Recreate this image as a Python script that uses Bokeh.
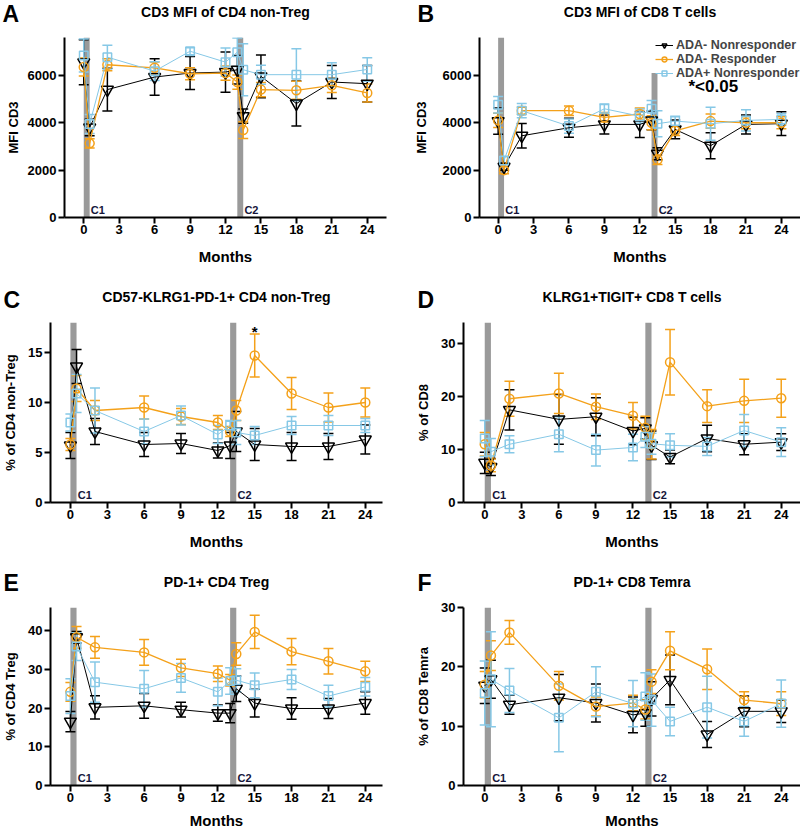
from bokeh.plotting import figure
from bokeh.models import (Range1d, FixedTicker, Whisker, TeeHead, ColumnDataSource,
                          Label, Legend, LegendItem, Title)
from bokeh.layouts import column, row
from bokeh.embed import file_html
from bokeh.resources import INLINE

# ---------------- data ----------------
months = [0, 0.5, 2, 6, 9, 12, 13, 13.5, 15, 18, 21, 24]
x_ticks = [0, 3, 6, 9, 12, 15, 18, 21, 24]
series_names = ["ADA- Nonresponder", "ADA- Responder", "ADA+ Nonresponder"]
cycle_labels = ["C1", "C2"]
cycle_start = [0, 13]
cycle_end = [0.5, 13.5]

# A: CD3 MFI of CD4 non-Treg
a_nr = [6550, 3800, 5400, 5930, 6100, 6140, 6240, 4280, 5960, 4810, 5720, 5650]
a_nr_sem = [950, 350, 900, 770, 700, 850, 600, 300, 900, 950, 700, 770]
a_r = [6350, 3130, 6450, 6320, 6070, 6100, 5720, 3690, 5400, 5370, 5580, 5260]
a_r_sem = [380, 200, 250, 250, 250, 300, 300, 350, 300, 380, 300, 380]
a_pos = [6840, 3950, 6770, 6180, 7020, 6560, 6980, 6240, 6030, 6030, 6030, 6250]
a_pos_sem = [700, 400, 500, 400, 150, 600, 600, 1100, 400, 1100, 500, 500]

# B: CD3 MFI of CD8 T cells
b_nr = [4070, 2140, 3450, 3790, 3930, 3930, 4100, 2690, 3720, 3030, 3930, 3960]
b_nr_sem = [550, 150, 520, 400, 400, 550, 400, 250, 400, 550, 400, 500]
b_r = [4100, 2000, 4510, 4510, 4230, 4370, 4000, 2440, 3660, 4070, 4000, 4000]
b_r_sem = [300, 150, 150, 200, 200, 250, 300, 200, 200, 300, 250, 250]
b_pos = [4760, 2410, 4510, 3860, 4590, 4280, 4590, 3960, 4070, 3960, 4100, 4140]
b_pos_sem = [350, 150, 300, 300, 200, 300, 350, 550, 200, 700, 450, 250]

# C: CD57-KLRG1-PD-1+ CD4 non-Treg
c_nr = [5.7, 13.6, 7.1, 5.8, 5.9, 5.2, 5.7, 7.1, 5.8, 5.6, 5.6, 6.3]
c_nr_sem = [1.3, 1.7, 1.3, 1.2, 1.0, 0.75, 1.3, 2.0, 1.6, 1.4, 1.3, 1.45]
c_r = [5.8, 11.4, 9.2, 9.5, 8.6, 8.0, 7.1, 9.2, 14.7, 10.9, 9.5, 10.0]
c_r_sem = [0.6, 1.3, 1.0, 1.15, 0.8, 0.7, 0.5, 1.0, 2.15, 1.6, 1.45, 1.45]
c_pos = [8.0, 10.9, 9.2, 7.1, 8.7, 6.8, 7.7, 7.0, 6.7, 7.7, 7.7, 7.7]
c_pos_sem = [0.85, 1.9, 2.25, 1.25, 0.95, 0.9, 0.5, 1.2, 0.9, 0.9, 1.0, 0.7]

# D: KLRG1+TIGIT+ CD8 T cells
d_nr = [7.5, 6.7, 17.5, 15.7, 16.2, 13.5, 14.0, 10.8, 8.6, 12.1, 11.0, 11.4]
d_nr_sem = [2.0, 1.6, 3.8, 4.7, 3.6, 2.6, 2.0, 2.7, 1.3, 2.5, 2.0, 1.6]
d_r = [11.0, 7.0, 19.6, 20.6, 18.1, 16.4, 14.1, 11.0, 26.5, 18.2, 19.2, 19.7]
d_r_sem = [2.2, 1.2, 3.3, 3.8, 2.4, 2.5, 2.2, 2.8, 6.2, 3.1, 4.1, 3.6]
d_pos = [12.1, 9.6, 11.0, 12.9, 9.9, 10.4, 12.4, 11.1, 10.8, 10.6, 13.6, 11.4]
d_pos_sem = [3.4, 2.5, 1.6, 3.3, 3.0, 2.5, 2.0, 2.0, 2.2, 1.7, 3.0, 2.7]

# E: PD-1+ CD4 Treg
e_nr = [16.5, 38.3, 20.2, 20.6, 19.6, 18.7, 18.7, 25.0, 21.3, 19.9, 19.9, 21.3]
e_nr_sem = [2.6, 1.5, 3.0, 3.2, 1.9, 2.1, 2.5, 3.3, 3.6, 2.8, 2.6, 2.9]
e_r = [24.2, 38.3, 35.7, 34.4, 30.4, 28.9, 27.2, 34.0, 39.7, 34.6, 32.1, 29.5]
e_r_sem = [2.4, 2.8, 2.8, 3.3, 2.2, 2.0, 1.5, 2.9, 4.3, 3.4, 3.3, 2.6]
e_pos = [23.1, 35.9, 26.7, 25.0, 27.8, 24.2, 27.0, 27.2, 25.9, 27.4, 23.1, 25.5]
e_pos_sem = [4.5, 3.6, 5.2, 4.7, 3.7, 3.6, 3.4, 3.0, 3.2, 2.6, 2.8, 2.4]

# F: PD-1+ CD8 Temra
f_nr = [16.8, 17.9, 13.6, 14.8, 13.9, 11.9, 12.2, 14.6, 17.8, 8.6, 12.5, 12.5]
f_nr_sem = [3.0, 3.2, 1.6, 3.9, 3.2, 3.0, 2.2, 2.9, 4.2, 2.2, 2.6, 1.9]
f_r = [17.0, 21.9, 25.8, 16.8, 13.3, 13.9, 12.8, 17.5, 22.7, 19.6, 14.4, 13.8]
f_r_sem = [2.2, 2.5, 2.0, 2.4, 1.6, 1.3, 1.6, 2.0, 3.2, 3.4, 1.4, 2.0]
f_pos = [15.6, 17.9, 16.0, 11.4, 15.8, 13.8, 15.0, 14.4, 10.8, 13.2, 10.8, 13.8]
f_pos_sem = [5.4, 8.0, 3.7, 5.7, 4.2, 3.9, 4.0, 4.4, 2.4, 5.2, 2.5, 4.0]

# significance marks (panel C)
c_sig_x = [15]
c_sig_y = [17.1]

# ---------------- styling ----------------
COLORS = ["#000000", "#F4A11A", "#86C8E6"]
MARKERS = ["inverted_triangle", "circle", "square"]
MSIZES = [12, 9, 8.5]
LWIDTH = [1.0, 1.3, 1.0]
FONT = "Liberation Sans"


def make_panel(letter, title, ylabel, yend, yticks, series, W, H, L, R, T, B,
               xstart, xend, ylab_standoff, xlab_standoff, letter_offset, letter_standoff,
               bar_tops=None):
    p = figure(width=W, height=H, x_range=Range1d(xstart, xend), y_range=Range1d(0, yend),
               output_backend="svg", toolbar_location=None,
               min_border_left=L, min_border_right=R, min_border_top=T, min_border_bottom=B)
    p.outline_line_color = None
    p.grid.visible = False
    p.xaxis.ticker = FixedTicker(ticks=x_ticks)
    p.yaxis.ticker = FixedTicker(ticks=yticks)
    for ax in (p.xaxis[0], p.yaxis[0]):
        ax.axis_line_width = 2
        ax.axis_line_color = "black"
        ax.major_tick_line_width = 2
        ax.major_tick_out = 6
        ax.major_tick_in = 0
        ax.minor_tick_out = 0
        ax.minor_tick_in = 0
        ax.major_label_text_font = FONT
        ax.major_label_text_font_style = "bold"
        ax.major_label_text_font_size = "13px"
        ax.major_label_text_color = "black"
        ax.axis_label_text_font = FONT
        ax.axis_label_text_font_style = "bold"
        ax.axis_label_text_color = "black"
    p.xaxis.axis_label = "Months"
    p.xaxis.axis_label_text_font_size = "15px"
    p.xaxis.major_label_standoff = 1
    p.xaxis.axis_label_standoff = xlab_standoff
    p.yaxis.axis_label = ylabel
    p.yaxis.axis_label_text_font_size = "13px"
    p.yaxis.major_label_standoff = 2
    p.yaxis.axis_label_standoff = ylab_standoff

    # above stack: spacer (nearest the frame), title text, panel letter
    p.add_layout(Title(text=" ", text_font_size="11px", standoff=4), "above")
    p.add_layout(Title(text=title, text_font=FONT, text_font_style="bold",
                       text_font_size="14px", align="center", standoff=0,
                       text_color="black"), "above")
    p.add_layout(Title(text=letter, text_font=FONT, text_font_style="bold",
                       text_font_size="23px", align="left", offset=letter_offset,
                       standoff=letter_standoff, text_color="black"), "above")

    # cycle bars
    tops = bar_tops if bar_tops is not None else [yend] * len(cycle_start)
    bsrc = ColumnDataSource(dict(left=cycle_start, right=cycle_end,
                                 bottom=[0] * len(cycle_start), top=tops))
    p.quad(left="left", right="right", bottom="bottom", top="top", source=bsrc,
           fill_color="#9a9a9a", line_color=None, level="image")
    for lab, xe in zip(cycle_labels, cycle_end):
        p.add_layout(Label(x=xe + 0.1, y=0, y_offset=2, text=lab, text_font=FONT,
                           text_font_style="bold", text_font_size="11px",
                           text_color="#15153a", text_baseline="bottom"))

    renderers = []
    for i, (mean, sem) in enumerate(series):
        src = ColumnDataSource(dict(x=months, y=mean,
                                    upper=[m + s for m, s in zip(mean, sem)],
                                    lower=[m - s for m, s in zip(mean, sem)]))
        c = COLORS[i]
        w = Whisker(source=src, base="x", upper="upper", lower="lower",
                    line_color=c, line_width=1.5, level="underlay",
                    upper_head=TeeHead(size=10, line_color=c, line_width=1.5),
                    lower_head=TeeHead(size=10, line_color=c, line_width=1.5))
        p.add_layout(w)
        lr = p.line("x", "y", source=src, line_color=c, line_width=LWIDTH[i])
        sr = p.scatter("x", "y", source=src, marker=MARKERS[i], size=MSIZES[i],
                       fill_color=None, line_color=c, line_width=1.5)
        renderers.append((lr, sr))
    return p, renderers


# row geometry (frame height 180)
H1, T1, B1 = 270, 37, 53
H2, T2, B2 = 285, 52, 53
H3, T3, B3 = 276, 52, 44

pA, _ = make_panel("A", "CD3 MFI of CD4 non-Treg", "MFI CD3", 7600, [0, 2000, 4000, 6000],
                   [(a_nr, a_nr_sem), (a_r, a_r_sem), (a_pos, a_pos_sem)],
                   400, H1, 64, 14, T1, B1, -1.63, 25.63, 4, 11, -62, -50)
pB, rB = make_panel("B", "CD3 MFI of CD8 T cells", "MFI CD3", 7600, [0, 2000, 4000, 6000],
                    [(b_nr, b_nr_sem), (b_r, b_r_sem), (b_pos, b_pos_sem)],
                    400, H1, 79, 0, T1, B1, -1.58, 25.62, 11, 11, -62, -50,
                    bar_tops=[7600, 6100])
pC, _ = make_panel("C", "CD57-KLRG1-PD-1+ CD4 non-Treg", "% of CD4 non-Treg", 18, [0, 5, 10, 15],
                   [(c_nr, c_nr_sem), (c_r, c_r_sem), (c_pos, c_pos_sem)],
                   400, H2, 49, 18, T2, B2, -1.62, 25.4, 7, 11, -47, -53)
pD, _ = make_panel("D", "KLRG1+TIGIT+ CD8 T cells", "% of CD8", 34, [0, 10, 20, 30],
                   [(d_nr, d_nr_sem), (d_r, d_r_sem), (d_pos, d_pos_sem)],
                   400, H2, 63, 0, T2, B2, -1.72, 25.56, 7, 11, -46, -53)
pE, _ = make_panel("E", "PD-1+ CD4 Treg", "% of CD4 Treg", 46, [0, 10, 20, 30, 40],
                   [(e_nr, e_nr_sem), (e_r, e_r_sem), (e_pos, e_pos_sem)],
                   400, H3, 49, 18, T3, B3, -1.62, 25.4, 7, 7, -47, -49)
pF, _ = make_panel("F", "PD-1+ CD8 Temra", "% of CD8 Temra", 30, [0, 10, 20, 30],
                   [(f_nr, f_nr_sem), (f_r, f_r_sem), (f_pos, f_pos_sem)],
                   400, H3, 63, 0, T3, B3, -1.72, 25.56, 7, 7, -46, -49)

# legend in B
items = [LegendItem(label=n, renderers=[lr, sr]) for n, (lr, sr) in zip(series_names, rB)]
leg = Legend(items=items, location=(176, 137), background_fill_alpha=0,
             border_line_color=None, label_text_font=FONT, label_text_font_style="bold",
             label_text_font_size="12.5px", glyph_width=18, glyph_height=12,
             label_height=12, spacing=0, padding=0, margin=0, label_standoff=3)
pB.add_layout(leg)
pB.add_layout(Label(x=209, y=131, x_units="screen", y_units="screen", text="*<0.05",
                    text_font=FONT, text_font_style="bold", text_font_size="17px",
                    text_baseline="alphabetic", text_color="black"))

# significance star in C
for sx, sy in zip(c_sig_x, c_sig_y):
    pC.add_layout(Label(x=sx, y=sy, text="*", text_font=FONT, text_font_style="bold",
                        text_font_size="15px", text_align="center",
                        text_baseline="middle", text_color="black"))

layout = column(row(pA, pB, spacing=0), row(pC, pD, spacing=0), row(pE, pF, spacing=0),
                spacing=0)

open("out.html", "w").write(file_html(layout, INLINE))
